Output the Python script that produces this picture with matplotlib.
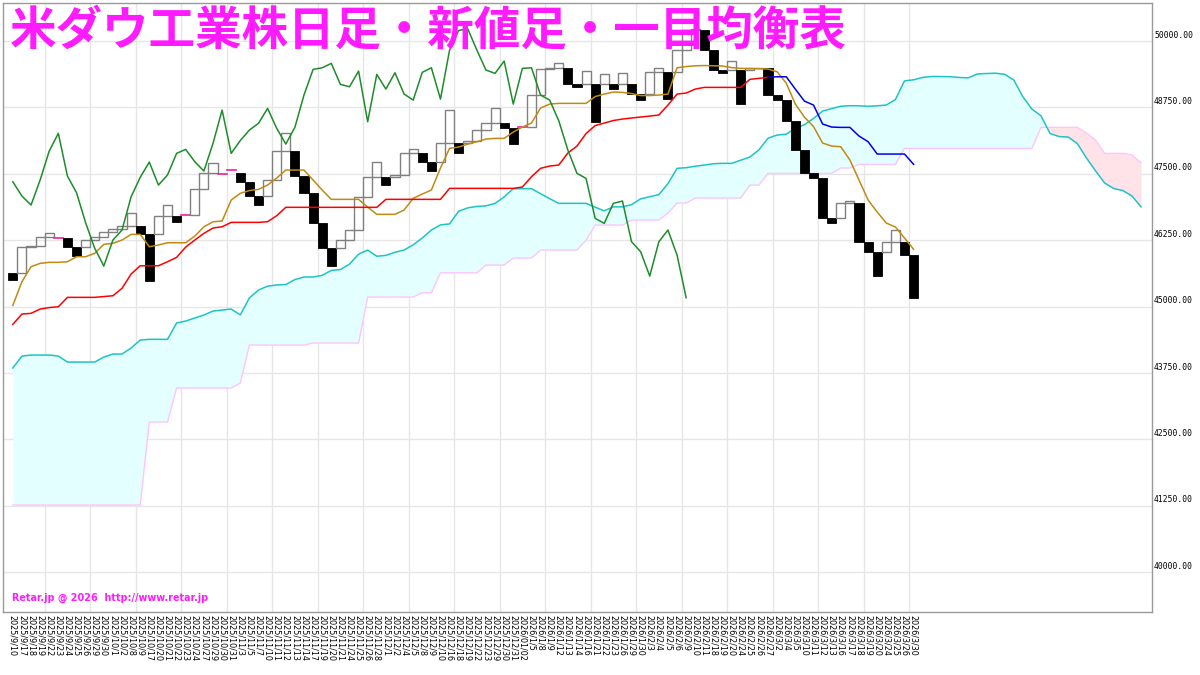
import matplotlib
matplotlib.use("Agg")
import matplotlib.pyplot as plt
from matplotlib.patches import Rectangle
import numpy as np

dates = ["2025/9/10", "2025/9/17", "2025/9/18", "2025/9/19", "2025/9/22", "2025/9/23", "2025/9/24", "2025/9/25",
         "2025/9/26", "2025/9/29", "2025/9/30", "2025/10/1", "2025/10/2", "2025/10/8", "2025/10/9", "2025/10/17",
         "2025/10/20", "2025/10/21", "2025/10/22", "2025/10/23", "2025/10/24", "2025/10/27", "2025/10/29", "2025/10/30",
         "2025/10/31", "2025/11/3", "2025/11/5", "2025/11/7", "2025/11/10", "2025/11/11", "2025/11/12", "2025/11/13",
         "2025/11/14", "2025/11/17", "2025/11/19", "2025/11/20", "2025/11/21", "2025/11/24", "2025/11/25", "2025/11/26",
         "2025/11/28", "2025/12/1", "2025/12/2", "2025/12/4", "2025/12/5", "2025/12/8", "2025/12/9", "2025/12/10",
         "2025/12/16", "2025/12/18", "2025/12/19", "2025/12/22", "2025/12/23", "2025/12/29", "2025/12/30", "2025/12/31",
         "2026/01/02", "2026/1/5", "2026/1/8", "2026/1/9", "2026/1/12", "2026/1/13", "2026/1/14", "2026/1/16",
         "2026/1/21", "2026/1/22", "2026/1/23", "2026/1/26", "2026/1/29", "2026/1/30", "2026/2/3", "2026/2/4",
         "2026/2/5", "2026/2/6", "2026/2/9", "2026/2/10", "2026/2/11", "2026/2/18", "2026/2/19", "2026/2/20",
         "2026/2/24", "2026/2/25", "2026/2/26", "2026/2/27", "2026/3/2", "2026/3/4", "2026/3/5", "2026/3/10",
         "2026/3/11", "2026/3/12", "2026/3/13", "2026/3/16", "2026/3/17", "2026/3/18", "2026/3/19", "2026/3/20",
         "2026/3/24", "2026/3/25", "2026/3/26", "2026/3/30"]

# new-price bars: kind w = up (white), b = down (black), m = very small bar
bar_kind = ["b", "w", "w", "w", "w", "m", "b", "b", "w", "w", "w", "w", "w", "w", "b", "b", "w", "w", "b", "m",
            "w", "w", "w", "m", "m", "b", "b", "b", "w", "w", "w", "b", "b", "b", "b", "b", "w", "w", "w", "w",
            "w", "b", "w", "w", "w", "b", "b", "w", "w", "b", "w", "w", "w", "w", "b", "b", "m", "w", "w", "w",
            "w", "b", "b", "w", "b", "w", "b", "w", "b", "b", "w", "w", "b", "w", "w", "w", "b", "b", "b", "w",
            "b", "w", "w", "b", "b", "b", "b", "b", "b", "b", "b", "w", "w", "b", "b", "b", "w", "w", "b", "b"]
bar_open = [45627, 45627, 46117, 46141, 46316, 46316, 46297, 46128, 46128, 46254,
            46316, 46410, 46455, 46517, 46517, 46367, 46367, 46706, 46706, 46706,
            46724, 47208, 47521, 47521, 47521, 47521, 47351, 47082, 47082, 47384,
            47930, 47930, 47459, 47145, 46580, 46098, 46098, 46254, 46442, 47069,
            47434, 47434, 47434, 47478, 47886, 47886, 47728, 47728, 48074, 48074,
            48074, 48127, 48325, 48451, 48451, 48357, 48357, 48376, 48984, 49467,
            49497, 49497, 49185, 49185, 49185, 49185, 49185, 49185, 49185, 49003,
            49003, 49411, 49411, 49411, 49830, 50200, 50200, 49830, 49454, 49454,
            49454, 49454, 49486, 49486, 48984, 48889, 48500, 47948, 47510, 47415,
            46662, 46662, 46945, 46945, 46222, 46034, 46034, 46222, 46222, 45972]
bar_close = [45501, 46117, 46141, 46316, 46391, 46297, 46128, 45953, 46254, 46316,
             46410, 46455, 46517, 46756, 46367, 45488, 46706, 46913, 46599, 46724,
             47208, 47521, 47709, 47506, 47572, 47351, 47082, 46913, 47384, 47930,
             48263, 47459, 47145, 46580, 46098, 45765, 46254, 46442, 47069, 47434,
             47722, 47289, 47478, 47886, 47961, 47728, 47553, 48074, 48701, 47886,
             48127, 48325, 48451, 48733, 48357, 48061, 48376, 48984, 49467, 49497,
             49580, 49185, 49140, 49435, 48481, 49373, 49096, 49403, 49003, 48889,
             49411, 49497, 48908, 49830, 50200, 50230, 49830, 49454, 49392, 49624,
             48814, 49486, 49497, 48984, 48889, 48500, 47948, 47510, 47415, 46662,
             46568, 46945, 46988, 46222, 46034, 45576, 46222, 46442, 45972, 45168]

tenkan = [45023, 45469, 45752, 45815, 45834, 45834, 45845, 45940, 45940, 46004,
          46173, 46192, 46254, 46361, 46361, 46128, 46160, 46203, 46203, 46203,
          46329, 46504, 46598, 46612, 47007, 47133, 47186, 47208, 47289, 47421,
          47572, 47572, 47572, 47384, 47195, 47020, 47020, 47020, 47020, 46875,
          46738, 46738, 46738, 46819, 47039, 47120, 47195, 47610, 47980, 48005,
          48061, 48105, 48155, 48168, 48168, 48287, 48381, 48457, 48739, 48814,
          48827, 48827, 48827, 48827, 48955, 49002, 49040, 49034, 49012, 48974,
          48974, 48984, 49002, 49497, 49520, 49535, 49539, 49535, 49530, 49501,
          49486, 49482, 49479, 49473, 49422, 49209, 48814, 48569, 48390, 48080,
          48023, 48010, 47760, 47384, 47007, 46781, 46574, 46499, 46292, 46079]

kijun = [44667, 44861, 44874, 44955, 44983, 44998, 45175, 45175, 45175, 45175,
         45190, 45205, 45345, 45614, 45770, 45770, 45770, 45845, 45928, 46122,
         46254, 46380, 46480, 46504, 46587, 46587, 46587, 46587, 46599, 46712,
         46870, 46870, 46870, 46870, 46870, 46870, 46870, 46870, 46870, 46870,
         46870, 47020, 47020, 47020, 47020, 47020, 47020, 47020, 47227, 47227,
         47227, 47227, 47227, 47227, 47227, 47227, 47252, 47446, 47604, 47647,
         47666, 47892, 48023, 48259, 48409, 48456, 48504, 48532, 48551, 48570,
         48588, 48607, 48795, 49002, 49021, 49096, 49128, 49128, 49128, 49128,
         49128, 49279, 49298, 49317, 49328, 49328, 49096, 48870, 48795, 48438,
         48381, 48375, 48375, 48212, 48105, 47873, 47873, 47873, 47873, 47679]
kijun_blue_from = 83

chikou = [47351, 47082, 46913, 47384, 47930, 48263, 47459, 47145, 46580, 46098,
          45765, 46254, 46442, 47069, 47434, 47722, 47289, 47478, 47886, 47961,
          47728, 47553, 48074, 48701, 47886, 48127, 48325, 48451, 48733, 48357,
          48061, 48376, 48984, 49467, 49497, 49580, 49185, 49140, 49435, 48481,
          49373, 49096, 49403, 49003, 48889, 49411, 49497, 48908, 49830, 50200,
          50230, 49830, 49454, 49392, 49624, 48814, 49486, 49497, 48984, 48889,
          48500, 47948, 47510, 47415, 46662, 46568, 46945, 46988, 46222, 46034,
          45576, 46222, 46442, 45972, 45168]

span_a = [43845, 44070, 44089, 44089, 44089, 44070, 43957, 43957, 43957, 43957,
          44051, 44108, 44108, 44221, 44371, 44385, 44385, 44385, 44692, 44729,
          44786, 44842, 44917, 44936, 44955, 44845, 45165, 45313, 45385, 45409,
          45416, 45510, 45558, 45558, 45590, 45682, 45699, 45800, 45988, 46066,
          45949, 45965, 46024, 46066, 46163, 46292, 46442, 46539, 46558, 46797,
          46860, 46887, 46898, 46944, 47067, 47221, 47221, 47221, 47127, 47033,
          46945, 46945, 46945, 46945, 46873, 46804, 46879, 46879, 46920, 47030,
          47070, 47108, 47315, 47604, 47616, 47644, 47666, 47691, 47698, 47698,
          47757, 47817, 47952, 48172, 48231, 48247, 48360, 48425, 48543, 48682,
          48729, 48772, 48783, 48782, 48772, 48781, 48796, 48899, 49250, 49271,
          49316, 49334, 49332, 49329, 49315, 49307, 49381, 49389, 49395, 49375,
          49269, 48955, 48720, 48593, 48259, 48202, 48193, 48068, 47798, 47556,
          47327, 47224, 47186, 47083, 46879]

span_b = [41265, 41265, 41265, 41265, 41265, 41265, 41265, 41265, 41265, 41265,
          41265, 41265, 41265, 41265, 41265, 42828, 42828, 42828, 43468, 43468,
          43468, 43468, 43468, 43468, 43468, 43562, 44277, 44277, 44277, 44277,
          44277, 44277, 44277, 44315, 44315, 44315, 44315, 44315, 44315, 45181,
          45181, 45181, 45181, 45181, 45181, 45262, 45262, 45638, 45638, 45638,
          45638, 45638, 45783, 45783, 45783, 45915, 45915, 45915, 46066, 46066,
          46066, 46066, 46066, 46254, 46536, 46536, 46536, 46536, 46630, 46630,
          46630, 46630, 46762, 46950, 46950, 47045, 47045, 47045, 47045, 47045,
          47045, 47289, 47289, 47510, 47510, 47510, 47510, 47510, 47510, 47510,
          47510, 47610, 47610, 47679, 47679, 47679, 47679, 47679, 47980, 47980,
          47980, 47980, 47980, 47980, 47980, 47980, 47980, 47980, 47980, 47980,
          47980, 47980, 47980, 48376, 48376, 48376, 48376, 48376, 48268, 48136,
          47886, 47886, 47886, 47854, 47704]

y_ticks = [40000, 41250, 42500, 43750, 45000, 46250, 47500, 48750, 50000]
title = "米ダウ工業株日足・新値足・一目均衡表"
credit = "Retar.jp @ 2026  http://www.retar.jp"

MAG = "#FF1AFF"

fig = plt.figure(figsize=(12, 6.75), dpi=100)
ax = fig.add_axes([0.0025, 0.0933, 0.9575, 0.9022])
ax.set_xlim(-1.08, 125.2)
ax.set_ylim(39251, 50716)

# grid
for v in y_ticks:
    ax.axhline(v, color="#E6E6E6", lw=1.0, zorder=0)
for gx in np.arange(3.5, 100, 5):
    ax.axvline(gx, color="#E6E6E6", lw=1.0, zorder=0)

# cloud
xa = np.arange(len(span_a))
A = np.array(span_a, float)
B = np.array(span_b, float)
ax.fill_between(xa, A, B, where=A >= B, interpolate=True, color="#E3FFFF", lw=0, zorder=1)
ax.fill_between(xa, A, B, where=A < B, interpolate=True, color="#FFE3E8", lw=0, zorder=1)
ax.plot(xa, B, color="#FFC4FF", lw=1.0, zorder=2)
ax.plot(xa, A, color="#1CC4C4", lw=1.1, zorder=2)

# bars
for i, (k, o, c) in enumerate(zip(bar_kind, bar_open, bar_close)):
    lo, hi = min(o, c), max(o, c)
    if k == "b":
        ax.add_patch(Rectangle((i - 0.5, lo), 1, hi - lo, facecolor="black", edgecolor="black", lw=0.6, zorder=3))
    elif k == "w":
        ax.add_patch(Rectangle((i - 0.5, lo), 1, hi - lo, facecolor="none", edgecolor="#808080", lw=1.0, zorder=3))
    else:
        ax.plot([i - 0.5, i + 0.5], [c, c], color="#F0209A", lw=1.2, zorder=3)

# ichimoku lines
xi = np.arange(len(tenkan))
ax.plot(xi, tenkan, color="#C08A14", lw=1.1, zorder=4)
kb = kijun_blue_from
ax.plot(xi[:kb + 1], kijun[:kb + 1], color="#FF0000", lw=1.1, zorder=4)
ax.plot(xi[kb:], kijun[kb:], color="#0000EE", lw=1.1, zorder=4)
ax.plot(np.arange(len(chikou)), chikou, color="#1E8C2A", lw=1.1, zorder=4)

# axes styling
for s in ax.spines.values():
    s.set_color("#9A9A9A")
    s.set_linewidth(1.0)
ax.set_yticks([])
ax.set_xticks(np.arange(len(dates)))
ax.set_xticklabels(dates, rotation=-90, fontsize=5.8, family="DejaVu Sans")
ax.tick_params(axis="x", length=0, pad=2.5)
for v in y_ticks:
    ax.annotate(f"{v:.2f}", xy=(1, v), xycoords=("axes fraction", "data"),
                xytext=(1.5, 4.3), textcoords="offset points", ha="left", va="center",
                fontsize=5.8, family="DejaVu Sans Mono", color="black")

fig.text(0.008, 0.955, title, fontsize=33.5, color=MAG, fontweight="bold",
         family=["Noto Sans CJK JP", "DejaVu Sans"], va="center", ha="left", zorder=10)
fig.text(0.010, 1 - 598 / 675, credit, fontsize=6.9, color=MAG, fontweight="bold",
         family="DejaVu Sans", va="center", ha="left")

fig.savefig("out.png", dpi=100, facecolor="white")
